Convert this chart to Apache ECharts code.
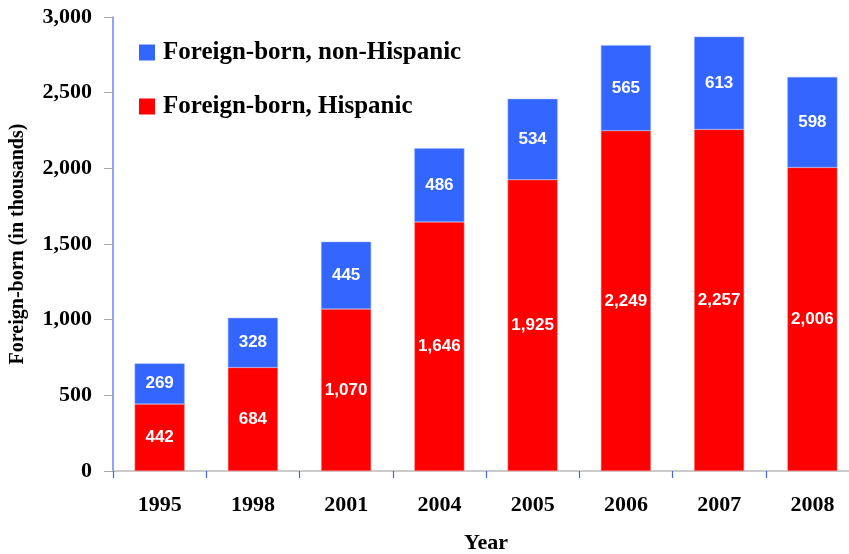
<!DOCTYPE html>
<html>
<head>
<meta charset="utf-8">
<script src="https://cdn.jsdelivr.net/npm/echarts@6/dist/echarts.min.js"></script>
<style>
  html, body { margin: 0; padding: 0; background: #fff; }
  #chart { width: 849px; height: 554px; }
</style>
</head>
<body>
<div id="chart"></div>
<script>
const years = ['1995', '1998', '2001', '2004', '2005', '2006', '2007', '2008'];
const hispanic = [442, 684, 1070, 1646, 1925, 2249, 2257, 2006];
const nonHispanic = [269, 328, 445, 486, 534, 565, 613, 598];

const chart = echarts.init(document.getElementById('chart'));

const serif = '"Liberation Serif", "Times New Roman", serif';
const sans = '"Liberation Sans", Arial, sans-serif';

const labelStyle = {
    show: true,
    position: 'inside',
    color: '#fff',
    fontFamily: sans,
    fontWeight: 'bold',
    fontSize: 17,
    formatter: p => p.value.toLocaleString('en-US')
};

const options = {
    animation: false,
    grid: {
        left: 113,
        top: 17,
        width: 746,
        height: 454,
        outerBoundsMode: 'none',
        containLabel: false
    },
    legend: {
        orient: 'vertical',
        left: 139,
        top: 40,
        padding: 0,
        icon: 'rect',
        itemWidth: 16,
        itemHeight: 16,
        itemGap: 29,
        itemStyle: { borderWidth: 0 },
        data: ['Foreign-born, non-Hispanic', 'Foreign-born, Hispanic'],
        textStyle: {
            fontFamily: serif,
            fontWeight: 'bold',
            fontSize: 25,
            color: '#000',
            padding: [0, 0, 0, 3]
        }
    },
    xAxis: {
        type: 'category',
        data: years,
        name: 'Year',
        nameLocation: 'middle',
        nameGap: 61,
        nameTextStyle: {
            fontFamily: serif,
            fontWeight: 'bold',
            fontSize: 22,
            color: '#000'
        },
        axisLine: {
            lineStyle: { color: '#bbbbbb', width: 1.5 }
        },
        axisTick: {
            show: true,
            length: 7,
            lineStyle: { color: '#4466ee', width: 1.2 }
        },
        axisLabel: {
            margin: 23,
            fontFamily: serif,
            fontWeight: 'bold',
            fontSize: 22,
            color: '#000'
        }
    },
    yAxis: {
        type: 'value',
        min: 0,
        max: 3000,
        interval: 500,
        name: 'Foreign-born (in thousands)',
        nameLocation: 'middle',
        nameGap: 85,
        nameTextStyle: {
            fontFamily: serif,
            fontWeight: 'bold',
            fontSize: 20,
            color: '#000'
        },
        splitLine: { show: false },
        axisLine: {
            show: true,
            lineStyle: { color: '#6688ff', width: 1.5 }
        },
        axisTick: {
            show: true,
            length: 9,
            lineStyle: { color: '#aaaaaa' }
        },
        axisLabel: {
            margin: 21,
            fontFamily: serif,
            fontWeight: 'bold',
            fontSize: 22,
            color: '#000',
            formatter: v => v.toLocaleString('en-US')
        }
    },
    series: [
        {
            name: 'Foreign-born, Hispanic',
            type: 'bar',
            stack: 'total',
            barWidth: 50,
            data: hispanic,
            itemStyle: { color: '#ff0000', borderColor: '#ff8888', borderWidth: 0.5 },
            label: labelStyle
        },
        {
            name: 'Foreign-born, non-Hispanic',
            type: 'bar',
            stack: 'total',
            barWidth: 50,
            data: nonHispanic,
            itemStyle: { color: '#3366ff', borderColor: '#99aaff', borderWidth: 0.5 },
            label: labelStyle
        }
    ]
};

chart.setOption(options);
</script>
</body>
</html>
